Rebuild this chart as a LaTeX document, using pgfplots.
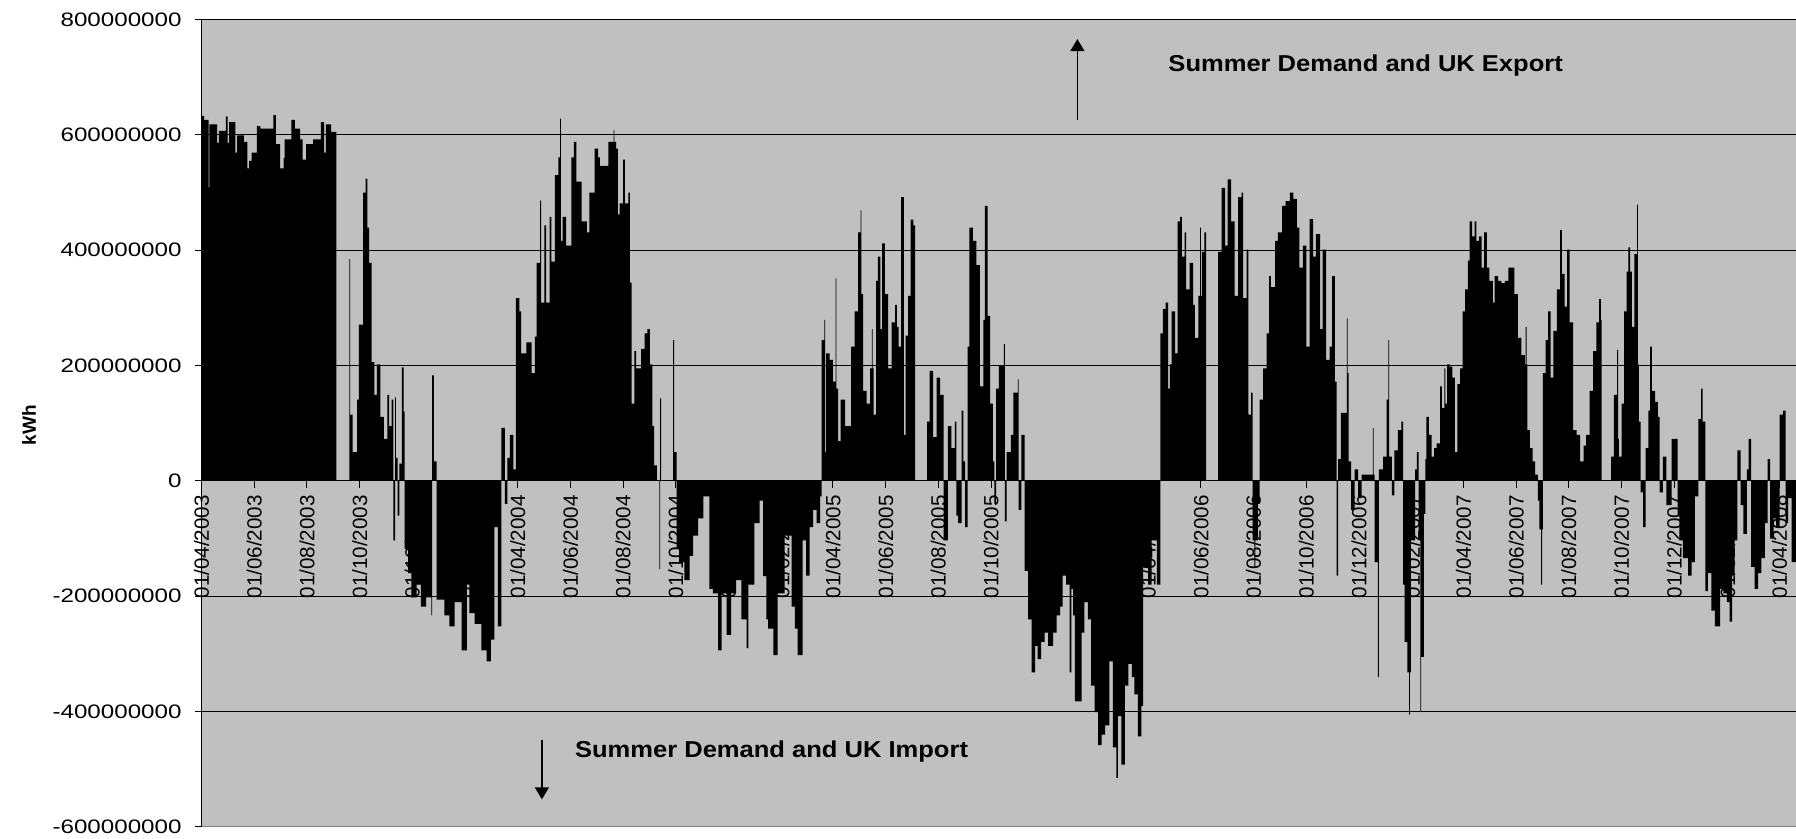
\documentclass[border=0pt]{standalone}
\usepackage{fontspec}
\setmainfont{Liberation Sans}
\newfontfamily\wide[FakeStretch=1.24]{Liberation Sans}
\newfontfamily\ann[FakeStretch=1.11]{Liberation Sans}
\usepackage{pgfplots}
\pgfplotsset{compat=1.18}
\usetikzlibrary{arrows.meta}
\definecolor{plotgray}{RGB}{192,192,192}
\definecolor{bordergray}{RGB}{128,128,128}

\begin{document}
\begin{tikzpicture}
\begin{axis}[
  name=ax,
  set layers,
  scale only axis,
  width=797.2pt, height=403.75pt,
  xmin=0, xmax=1846,
  ymin=-600, ymax=800,
  clip mode=individual,
  axis background/.style={fill=plotgray},
  axis y line*=left,
  axis x line*=middle,
  hide obscured x ticks=false,
  axis line style={black, line width=0.5pt},
  tick align=outside,
  major tick length=3.5pt,
  tick style={black, line width=0.5pt},
  ymajorgrids,
  major grid style={black, line width=0.5pt},
  ytick={-600,-400,-200,0,200,400,600,800},
  yticklabels={-600000000,-400000000,-200000000,0,200000000,400000000,600000000,800000000},
  yticklabel style={font=\wide\fontsize{9.75}{10}\selectfont, anchor=east, inner sep=0pt},
  yticklabel shift=6.3pt,
  xtick={0,61,122,183,244,306,366,427,488,549,610,672,731,792,853,914,975,1037,1096,1157,1218,1279,1340,1402,1461,1522,1583,1644,1705,1767,1827},
  xticklabels={01/04/2003,01/06/2003,01/08/2003,01/10/2003,01/12/2003,01/02/2004,01/04/2004,01/06/2004,01/08/2004,01/10/2004,01/12/2004,01/02/2005,01/04/2005,01/06/2005,01/08/2005,01/10/2005,01/12/2005,01/02/2006,01/04/2006,01/06/2006,01/08/2006,01/10/2006,01/12/2006,01/02/2007,01/04/2007,01/06/2007,01/08/2007,01/10/2007,01/12/2007,01/02/2008,01/04/2008},
  xticklabel style={font=\fontsize{10.3}{11}\selectfont, rotate=90, anchor=east, inner sep=0pt},
  xticklabel shift=3.5pt,
]
% daily balance in millions of kWh, read as steps (day since 01/04/2003, value)
\addplot[fill=black, draw=none, const plot] coordinates {
(0,0) (0,633) (3,626) (8,509) (9,618) (18,586) (20,607) (28,632) (30,586) (32,622)
(39,569) (41,599) (49,588) (53,542) (55,555) (58,569) (64,615) (68,611) (83,634) (86,584)
(91,542) (95,560) (96,592) (104,626) (108,611) (114,592) (117,557) (121,584) (129,592) (138,622)
(142,569) (144,618) (150,605) (156,0) (171,385) (172,115) (175,50) (180,141) (182,271) (187,500)
(190,524) (192,439) (194,378) (197,206) (200,149) (203,202) (207,111) (211,73) (215,149) (217,95)
(220,141) (222,-103) (224,145) (225,40) (227,-60) (229,30) (232,197) (234,120) (235,-118) (239,-160)
(243,-202) (249,-180) (254,-218) (260,-202) (266,-233) (267,183) (269,34) (272,-206) (281,-233) (287,-252)
(293,-210) (301,-294) (307,-180) (310,-229) (316,-248) (324,-294) (330,-313) (335,-275) (339,-80) (343,-252)
(347,92) (351,-40) (354,40) (357,80) (361,20) (364,317) (368,294) (370,221) (376,240) (382,187)
(386,250) (388,378) (392,486) (393,309) (397,443) (399,309) (403,458) (405,380) (409,530) (413,561)
(415,628) (416,416) (418,458) (422,408) (428,561) (431,588) (434,519) (440,450) (446,431) (449,500)
(455,576) (459,561) (461,546) (471,588) (477,608) (478,588) (480,576) (482,462) (484,481) (488,557)
(490,481) (494,500) (496,344) (498,134) (501,225) (503,195) (509,229) (513,256) (516,263) (519,202)
(522,95) (524,27) (527,0) (530,-153) (531,143) (532,0) (546,244) (547,50) (550,-118) (553,-141)
(559,-172) (565,-130) (569,-95) (575,-65) (581,-27) (588,-187) (592,-195) (598,-294) (602,-195) (608,-267)
(613,-195) (619,-172) (625,-240) (631,-290) (633,-180) (640,-73) (646,-34) (650,-165) (654,-240) (656,-256)
(662,-302) (667,-195) (675,-95) (683,-218) (687,-256) (690,-302) (696,-103) (700,-164) (704,-80) (708,-50)
(712,-73) (716,-27) (718,244) (721,279) (722,50) (723,221) (727,210) (731,172) (734,351) (735,160)
(737,69) (740,141) (745,95) (752,233) (756,294) (760,431) (763,469) (764,324) (766,156) (770,134)
(774,195) (776,263) (777,195) (778,115) (781,347) (783,389) (786,263) (788,412) (791,324) (795,195)
(799,275) (803,305) (805,267) (807,233) (810,492) (813,80) (815,252) (818,321) (821,453) (824,443)
(826,0) (840,103) (843,191) (847,76) (851,179) (855,149) (859,-103) (864,95) (868,57) (872,103)
(874,-60) (876,-73) (880,122) (882,34) (884,-80) (887,233) (889,439) (893,416) (897,374) (901,164)
(905,279) (907,477) (910,286) (913,134) (916,34) (918,-40) (920,160) (923,200) (929,237) (930,-70)
(932,50) (937,80) (940,153) (945,176) (946,-50) (949,80) (953,-156) (957,-240) (961,-332) (965,-286)
(968,-309) (972,-279) (976,-263) (980,-286) (986,-263) (990,-233) (994,-218) (997,-164) (1001,-180) (1005,-332)
(1007,-187) (1009,-233) (1011,-382) (1019,-263) (1022,-210) (1026,-240) (1030,-355) (1034,-401) (1038,-458) (1042,-440)
(1046,-424) (1051,-313) (1055,-462) (1059,-515) (1061,-408) (1065,-492) (1069,-355) (1073,-317) (1077,-340) (1080,-370)
(1084,-443) (1088,-390) (1090,-150) (1096,-180) (1100,-103) (1106,-180) (1110,256) (1113,298) (1116,309) (1119,160)
(1121,202) (1123,294) (1127,221) (1130,450) (1133,458) (1135,389) (1138,431) (1140,332) (1144,378) (1148,305)
(1150,248) (1154,321) (1156,439) (1157,321) (1158,397) (1161,431) (1163,0) (1177,397) (1181,508) (1185,408)
(1188,523) (1192,450) (1196,321) (1200,492) (1204,500) (1206,317) (1210,401) (1212,115) (1215,153) (1217,-103)
(1219,-149) (1220,-103) (1223,-40) (1225,141) (1229,195) (1233,256) (1236,355) (1238,336) (1243,416) (1246,431)
(1251,477) (1255,485) (1260,500) (1264,489) (1268,439) (1271,370) (1275,408) (1279,233) (1283,454) (1287,389)
(1290,428) (1295,263) (1298,401) (1302,210) (1306,233) (1309,355) (1312,172) (1314,-164) (1316,38) (1319,118)
(1326,282) (1327,187) (1328,34) (1331,-50) (1335,20) (1339,-30) (1343,11) (1356,92) (1357,11) (1358,-141)
(1362,-340) (1363,20) (1368,42) (1372,141) (1374,244) (1375,42) (1378,-25) (1381,53) (1385,88) (1389,103)
(1391,-180) (1393,-279) (1396,-332) (1398,-405) (1399,-332) (1400,-103) (1405,20) (1407,50) (1409,-103) (1411,-401)
(1412,-305) (1415,-57) (1417,38) (1418,111) (1421,80) (1424,42) (1427,57) (1430,65) (1434,164) (1436,126)
(1439,195) (1440,134) (1442,202) (1445,198) (1448,179) (1451,50) (1454,168) (1457,195) (1460,294) (1463,332)
(1466,382) (1468,450) (1471,424) (1474,450) (1476,416) (1479,424) (1482,370) (1485,431) (1488,370) (1491,347)
(1495,309) (1497,355) (1501,347) (1505,343) (1509,347) (1513,370) (1517,370) (1520,324) (1524,248) (1528,218)
(1532,202) (1533,267) (1534,202) (1535,88) (1538,57) (1541,34) (1544,11) (1547,-34) (1549,-84) (1551,-180)
(1552,-84) (1553,187) (1556,244) (1559,294) (1562,179) (1565,260) (1569,332) (1573,435) (1575,359) (1578,302)
(1581,401) (1584,275) (1588,88) (1592,80) (1596,34) (1600,61) (1603,80) (1607,156) (1611,225) (1615,275)
(1618,315) (1620,279) (1621,0) (1632,42) (1635,149) (1639,227) (1640,73) (1641,42) (1644,134) (1647,294)
(1650,363) (1652,405) (1654,363) (1656,267) (1659,393) (1662,479) (1663,202) (1664,103) (1666,-20) (1669,-80)
(1672,57) (1675,122) (1677,233) (1679,156) (1683,137) (1686,111) (1688,-20) (1692,42) (1696,-42) (1702,73)
(1709,-60) (1711,-103) (1715,-134) (1721,-164) (1725,-141) (1729,-27) (1733,107) (1736,160) (1738,103) (1741,-191)
(1744,-160) (1748,-225) (1752,-252) (1758,-187) (1762,-195) (1766,-210) (1769,-244) (1772,-164) (1775,-103) (1778,53)
(1782,-42) (1785,-92) (1789,20) (1791,73) (1794,-149) (1798,-187) (1802,-160) (1806,-134) (1810,-73) (1813,38)
(1816,-100) (1820,-65) (1823,-80) (1827,115) (1831,122) (1834,-73) (1837,-30) (1841,-141) (1848,0)
} -- cycle;

\draw[bordergray, line width=0.5pt] (rel axis cs:0,0) -- (rel axis cs:1,0);

\node[anchor=west, inner sep=0pt, font=\ann\bfseries\fontsize{11.5}{12}\selectfont]
  at (axis cs:1119,721) {Summer Demand and UK Export};
\draw[-{Triangle[length=6pt,width=7pt]}, line width=0.7pt] (axis cs:1014,626) -- (axis cs:1014,766);
\node[anchor=west, inner sep=0pt, font=\ann\bfseries\fontsize{11.5}{12}\selectfont]
  at (axis cs:432,-470) {Summer Demand and UK Import};
\draw[-{Triangle[length=6pt,width=7pt]}, line width=0.7pt] (axis cs:394,-449) -- (axis cs:394,-552);
\node[rotate=90, inner sep=0pt, font=\bfseries\fontsize{9.5}{10}\selectfont]
  at ([xshift=-86.3pt]axis cs:0,97) {kWh};
\end{axis}
\pgfresetboundingbox
\path[use as bounding box] ([xshift=-100.8pt,yshift=-6pt]ax.south west) rectangle ([yshift=9.75pt]ax.north east);
\end{tikzpicture}
\end{document}
